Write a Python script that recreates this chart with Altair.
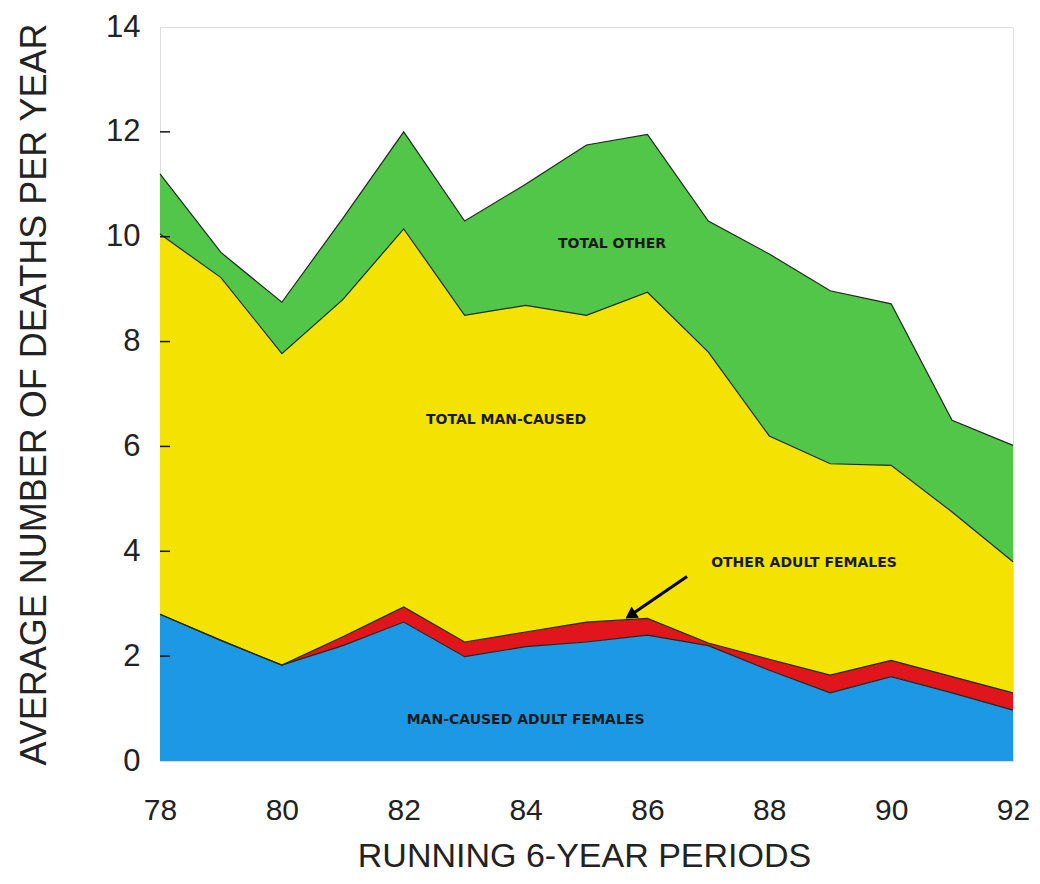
import altair as alt
import pandas as pd

years = list(range(78, 93))
# upper boundary of each stacked band
blue_top = [2.8, 2.3, 1.83, 2.2, 2.65, 1.99, 2.18, 2.27, 2.4, 2.2, 1.73, 1.3, 1.61, 1.3, 0.97]
red_top = [2.8, 2.3, 1.83, 2.37, 2.94, 2.27, 2.46, 2.65, 2.72, 2.25, 1.94, 1.64, 1.92, 1.61, 1.3]
yellow_top = [10.05, 9.22, 7.77, 8.8, 10.15, 8.5, 8.69, 8.5, 8.94, 7.8, 6.2, 5.67, 5.64, 4.75, 3.8]
green_top = [11.2, 9.7, 8.75, 10.35, 12.0, 10.3, 11.0, 11.75, 11.95, 10.3, 9.67, 8.97, 8.72, 6.5, 6.02]

x_ticks = [78, 80, 82, 84, 86, 88, 90, 92]
y_ticks = [0, 2, 4, 6, 8, 10, 12, 14]
inner_ticks = [2, 4, 6, 8, 10, 12]

label_text = ["TOTAL OTHER", "TOTAL MAN-CAUSED", "OTHER ADULT FEMALES", "MAN-CAUSED ADULT FEMALES"]
label_x = [85.42, 83.68, 88.57, 84.0]
label_y = [9.87, 6.5, 3.77, 0.78]

arrow_tail = (86.65, 3.52)
arrow_tip = (85.72, 2.78)

GREEN = "#52c648"
YELLOW = "#f4e302"
RED = "#e1161c"
BLUE = "#1c98e4"
EDGE = "#1d2a1d"
FONT = "Liberation Sans"

df = pd.DataFrame({
    "year": years,
    "blue": blue_top,
    "red": red_top,
    "yellow": yellow_top,
    "green": green_top,
})
labels = pd.DataFrame({"text": label_text, "x": label_x, "y": label_y})
ticks_df = pd.DataFrame({"v": inner_ticks})
arrow_df = pd.DataFrame({"x": [arrow_tail[0]], "y": [arrow_tail[1]],
                         "x2": [arrow_tip[0]], "y2": [arrow_tip[1]]})
head_df = pd.DataFrame({"x": [arrow_tip[0]], "y": [arrow_tip[1]]})

xscale = alt.Scale(domain=[78, 92], nice=False, zero=False)
yscale = alt.Scale(domain=[0, 14], nice=False)

xaxis = alt.Axis(values=x_ticks, format="d", title="RUNNING 6-YEAR PERIODS", grid=False,
                 ticks=False, tickSize=0, labelPadding=34, labelFontSize=30,
                 labelFlush=False, labelOverlap=False,
                 labelFont=FONT, labelColor="#222", domain=False,
                 titleFont=FONT, titleFontSize=34, titleFontWeight="normal",
                 titleColor="#222", titleX=424, titleY=95, titleAlign="center",
                 titleBaseline="middle")
yaxis = alt.Axis(values=y_ticks, format="d", title="AVERAGE NUMBER OF DEATHS PER YEAR", grid=False,
                 ticks=False, tickSize=0, labelPadding=20, labelFontSize=31,
                 labelFlush=False, labelOverlap=False,
                 labelFont=FONT, labelColor="#222", domain=False,
                 titleFont=FONT, titleFontSize=36, titleFontWeight="normal",
                 titleColor="#222", titleX=-126, titleY=367, titleAngle=270,
                 titleAlign="center", titleBaseline="middle")

base = alt.Chart(df)
X = alt.X("year:Q", scale=xscale, axis=xaxis)

blue_area = base.mark_area(color=BLUE).encode(x=X, y=alt.Y("blue:Q", scale=yscale, axis=yaxis))
red_area = base.mark_area(color=RED).encode(x="year:Q", y="red:Q", y2="blue:Q")
yellow_area = base.mark_area(color=YELLOW).encode(x="year:Q", y="yellow:Q", y2="red:Q")
green_area = base.mark_area(color=GREEN).encode(x="year:Q", y="green:Q", y2="yellow:Q")

edges = [base.mark_line(color=EDGE, strokeWidth=1.2).encode(x="year:Q", y=f"{c}:Q")
         for c in ["blue", "red", "yellow", "green"]]

tick_marks = alt.Chart(ticks_df).mark_rule(color="#111", strokeWidth=1.5).encode(
    y="v:Q", x=alt.value(0), x2=alt.value(10))

text_layer = alt.Chart(labels).mark_text(font="DejaVu Sans", fontSize=14, fontWeight="bold",
                                         color="#1a1a1a").encode(
    x="x:Q", y="y:Q", text="text:N")

arrow_line = alt.Chart(arrow_df).mark_rule(color="#000", strokeWidth=3).encode(
    x="x:Q", y="y:Q", x2="x2:Q", y2="y2:Q")
arrow_head = alt.Chart(head_df).mark_point(shape="triangle-up", filled=True, color="#000",
                                          size=180, angle=236.7, opacity=1).encode(
    x="x:Q", y="y:Q")

chart = alt.layer(blue_area, red_area, yellow_area, green_area, *edges, tick_marks,
                  text_layer, arrow_line, arrow_head).properties(
    width=853, height=734, autosize="none",
    padding={"left": 152, "top": 19, "right": 19, "bottom": 118},
).configure_view(stroke="#333", strokeWidth=1.6).configure(background="white")

chart.save("out.html", embed_options={"renderer": "svg", "actions": False})
